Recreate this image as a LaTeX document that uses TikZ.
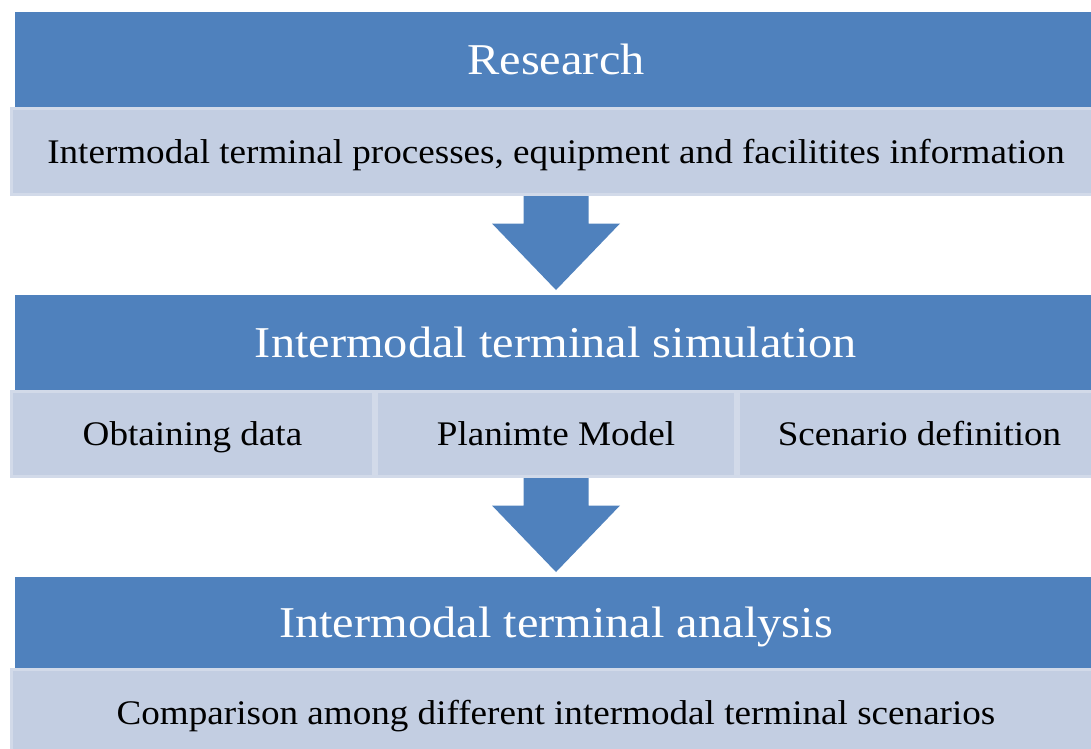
\documentclass[tikz,border=0pt]{standalone}
\usepackage{fontspec}
\setmainfont{Liberation Serif}
\newfontfamily\titlefont[FakeStretch=1.1]{Liberation Serif}
\newfontfamily\subfont[FakeStretch=1.076]{Liberation Serif}
\usetikzlibrary{calc}
\definecolor{barblue}{HTML}{4F81BD}
\definecolor{boxfill}{HTML}{C3CEE2}
\definecolor{boxedge}{HTML}{D2DAE9}
\tikzset{
  bar/.style={fill=barblue, draw=none, text=white, font=\titlefont\fontsize{44}{50}\selectfont,
    anchor=north west, inner sep=0pt, outer sep=0pt, text height=29pt, text depth=0pt},
  sub/.style={fill=boxfill, draw=boxedge, line width=3pt, text=black, font=\subfont\fontsize{34.5}{40}\selectfont,
    anchor=north west, inner sep=0pt, outer sep=0pt, text height=23pt, text depth=0pt},
  blockarrow/.style={fill=barblue, draw=none}
}
\begin{document}
\begin{tikzpicture}[x=1pt,y=-1pt]
\useasboundingbox (0,0) rectangle (1091,748);
% row 1
\node[bar, minimum width=1082pt, minimum height=95pt] (bar1) at (15,12) {Research};
\node[sub, minimum width=1089pt, minimum height=86pt] (sub1) at (11.5,108.5)
  {Intermodal terminal processes, equipment and facilitites information};
% row 2
\node[bar, minimum width=1082pt, minimum height=95pt] (bar2) at (15,295) {Intermodal terminal simulation};
\node[sub, minimum width=362pt, minimum height=85pt] (sub2a) at (11.5,391.5) {Obtaining data};
\node[sub, minimum width=359pt, minimum height=85pt] (sub2b) at (376.5,391.5) {Planimte Model};
\node[sub, minimum width=362pt, minimum height=85pt] (sub2c) at (738.5,391.5) {Scenario definition};
% row 3
\node[bar, minimum width=1082pt, minimum height=91pt] (bar3) at (15,577) {Intermodal terminal analysis};
\node[sub, minimum width=1089pt, minimum height=86pt] (sub3) at (11.5,669.5)
  {Comparison among different intermodal terminal scenarios};
% arrows
\coordinate (a1s) at (sub1.south -| bar2.north);
\coordinate (a1e) at ($(bar2.north)+(0,-5)$);
\fill[blockarrow] ($(a1s)+(-32.5,1.5)$) -- ($(a1s)+(32.5,1.5)$) -- ($(a1s)+(32.5,29)$)
  -- ($(a1s)+(64,29)$) -- (a1e) -- ($(a1s)+(-64,29)$) -- ($(a1s)+(-32.5,29)$) -- cycle;
\coordinate (a2s) at (sub2b.south -| bar3.north);
\coordinate (a2e) at ($(bar3.north)+(0,-5)$);
\fill[blockarrow] ($(a2s)+(-32.5,1.5)$) -- ($(a2s)+(32.5,1.5)$) -- ($(a2s)+(32.5,29)$)
  -- ($(a2s)+(64,29)$) -- (a2e) -- ($(a2s)+(-64,29)$) -- ($(a2s)+(-32.5,29)$) -- cycle;
\end{tikzpicture}
\end{document}
